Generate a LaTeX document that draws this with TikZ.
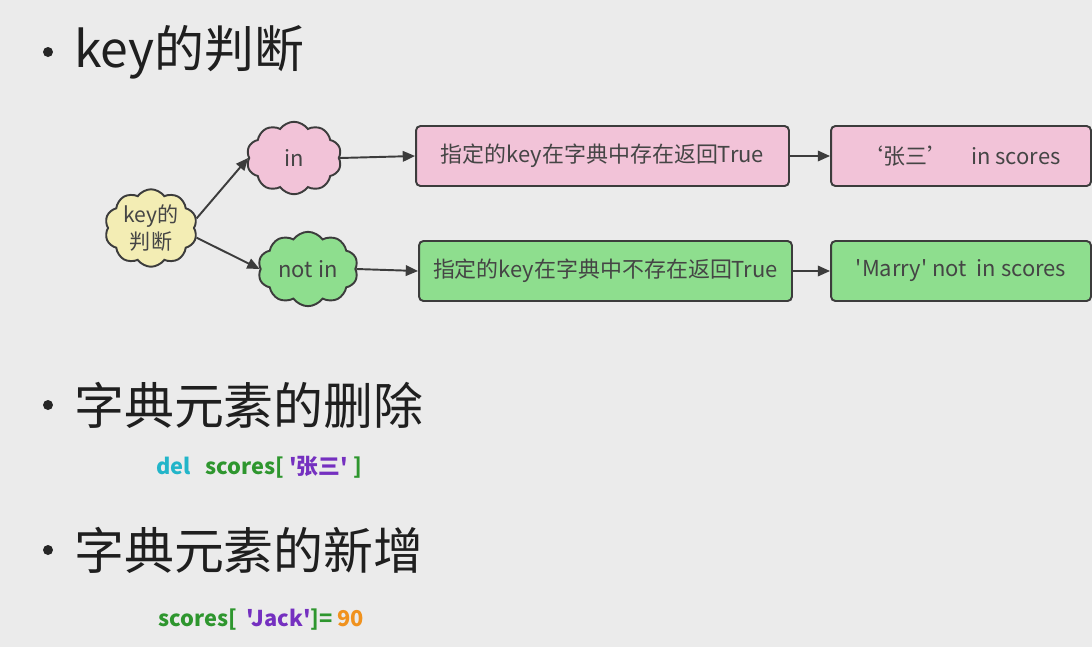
\documentclass[tikz,border=0pt]{standalone}
\usepackage{fontspec}
\newfontfamily\yh{Noto Sans CJK SC}
\usetikzlibrary{arrows.meta, positioning, shapes.symbols}
\definecolor{bgray}{HTML}{EBEBEB}
\definecolor{edge}{HTML}{3C3C3C}
\definecolor{txt}{HTML}{454545}
\definecolor{cyellow}{HTML}{F3EDB4}
\definecolor{cpink}{HTML}{F2C3D8}
\definecolor{cgreen}{HTML}{8EDE8E}
\definecolor{kwcyan}{HTML}{22B5C9}
\definecolor{kwgreen}{HTML}{2E962E}
\definecolor{kwpurple}{HTML}{7530C0}
\definecolor{kworange}{HTML}{F0921E}

\begin{document}
\begin{tikzpicture}[x=0.02cm, y=-0.02cm,
  puff/.style={cloud, cloud puffs=10, cloud puff arc=110, aspect=1.3, draw=edge, line width=1.1pt,
               minimum width=1.9cm, minimum height=1.45cm, align=center, inner sep=0pt,
               font=\yh\fontsize{12.5}{14}\selectfont, text=txt},
  box/.style={rectangle, rounded corners=2.5pt, draw=edge, line width=1.1pt,
              minimum height=1.2cm, align=center, font=\yh\fontsize{12.5}{14}\selectfont, text=txt},
  arr/.style={-{Triangle[length=7pt, width=6pt]}, line width=1.1pt, draw=edge},
  head/.style={anchor=west, font=\yh\fontsize{28.4}{31}\selectfont, text=black!88},
  dot/.style={circle, fill=black!85, inner sep=0pt, minimum size=0.2cm},
  code/.style={anchor=west, font=\yh\bfseries\fontsize{12.4}{14}\selectfont}
]
  \useasboundingbox[fill=bgray] (0,0) rectangle (1092,647);

  % headings
  \node[dot]  (b1) at (48, 52)  {};
  \node[head] (h1) at (68, 52)  {key的判断};
  \node[dot]  (b2) at (48, 405) {};
  \node[head] (h2) at (68, 405) {字典元素的删除};
  \node[dot]  (b3) at (48, 550) {};
  \node[head] (h3) at (68, 550) {字典元素的新增};

  % clouds
  \node[puff, fill=cyellow, minimum width=1.85cm, minimum height=1.55cm, font=\yh\fontsize{12}{15}\selectfont] (key) at (151, 228) {key的\\判断};
  \node[puff, fill=cpink]  (in)    at (294, 158) {in};
  \node[puff, fill=cgreen, minimum width=2.0cm] (notin) at (308, 269) {not in};

  % boxes
  \node[box, fill=cpink,  minimum width=7.46cm] (yes)  at (602.5, 156) {指定的key在字典中存在返回True};
  \node[box, fill=cpink,  minimum width=5.2cm]  (yes2) at (961, 156)   {‘张三’\quad in scores};
  \node[box, fill=cgreen, minimum width=7.46cm] (no)   at (605.5, 271) {指定的key在字典中不存在返回True};
  \node[box, fill=cgreen, minimum width=5.2cm]  (no2)  at (961, 271)   {'Marry' not~ in scores};

  \draw[arr] (key.12)     -- (in.west);
  \draw[arr] (key.-12)    -- (notin.west);
  \draw[arr] (in.east)    -- (yes.west);
  \draw[arr] (notin.east) -- (no.west);
  \draw[arr] (yes.east)   -- (yes2.west);
  \draw[arr] (no.east)    -- (no2.west);

  % code lines
  \node[code] (del) at (150, 467) {\textcolor{kwcyan}{del}\ \ \ \textcolor{kwgreen}{scores[}\ \textcolor{kwpurple}{'张三'}\ \textcolor{kwgreen}{]}};
  \node[code] (add) at (152, 620) {\textcolor{kwgreen}{scores[}\ \ \textcolor{kwpurple}{'Jack'}\textcolor{kwgreen}{]=}\ \textcolor{kworange}{90}};
\end{tikzpicture}
\end{document}
